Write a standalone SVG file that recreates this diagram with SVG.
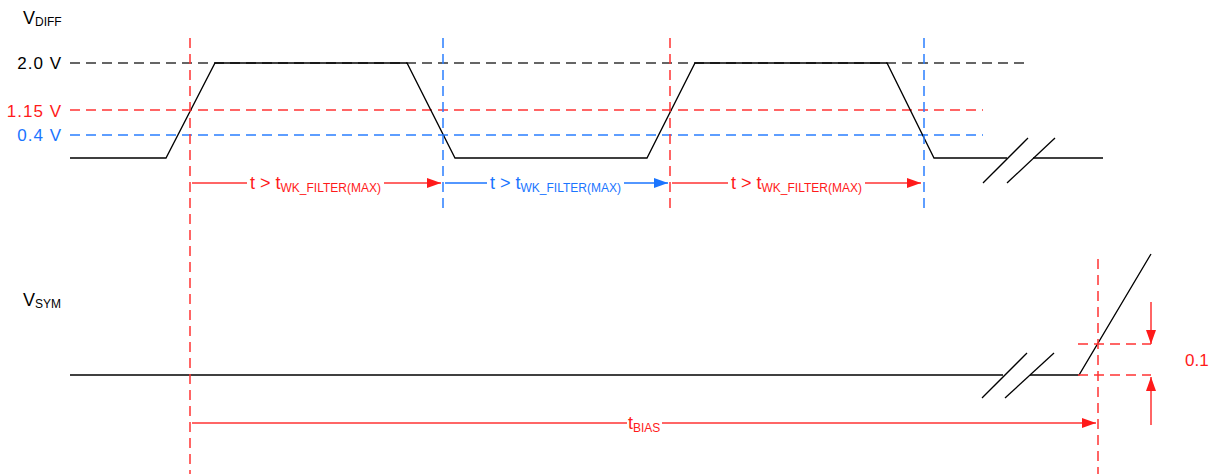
<svg xmlns="http://www.w3.org/2000/svg" width="1221" height="474" viewBox="0 0 1221 474">
<style>
text{font-family:"Liberation Sans",Arial,sans-serif;font-size:18px}
.sub{font-size:12px}
.lvl{font-size:17px;letter-spacing:1px}
.red{fill:#ff1a1a}
.blue{fill:#1a75ff}
.blk{fill:#000}
.sig{stroke:#000;stroke-width:1.3;fill:none}
.dk{stroke:#333;stroke-width:1.5;stroke-dasharray:10 6;fill:none}
.dr{stroke:#ff3333;stroke-width:1.5;stroke-dasharray:10 6;fill:none}
.db{stroke:#2a7fff;stroke-width:1.5;stroke-dasharray:10 6;fill:none}
.ar{stroke:#ff3333;stroke-width:1.5;fill:none}
.ab{stroke:#1a75ff;stroke-width:1.5;fill:none}
</style>
<defs>
<marker id="mr" markerWidth="14" markerHeight="10" refX="14" refY="5" orient="auto" markerUnits="userSpaceOnUse"><path d="M0,0 L14,5 L0,10 Z" fill="#ff1a1a"/></marker>
<marker id="mb" markerWidth="14" markerHeight="10" refX="14" refY="5" orient="auto" markerUnits="userSpaceOnUse"><path d="M0,0 L14,5 L0,10 Z" fill="#1a75ff"/></marker>
</defs>
<g id="labels">
<text x="23" y="24" class="blk">V<tspan class="sub" dy="2">DIFF</tspan></text>
<text x="62" y="69" class="blk lvl" text-anchor="end">2.0 V</text>
<text x="62" y="117" class="red lvl" text-anchor="end">1.15 V</text>
<text x="62" y="141" class="blue lvl" text-anchor="end">0.4 V</text>
<text x="23" y="306" class="blk">V<tspan class="sub" dy="2">SYM</tspan></text>
<text x="1185" y="366" class="red" style="font-size:17px">0.1</text>
</g>
<g id="levels">
<line class="dk" x1="70" y1="63" x2="1025" y2="63"/>
<line class="dr" x1="70" y1="110" x2="983" y2="110"/>
<line class="db" x1="70" y1="135" x2="983" y2="135"/>
</g>
<g id="vdiff-signal">
<polyline class="sig" points="70,158 166,158 215,63 407,63 455,158 647,158 695,63 887,63 934,158 1007,158"/>
<line class="sig" x1="1033" y1="158" x2="1103" y2="158"/>
<line class="sig" x1="983" y1="183" x2="1028" y2="138"/>
<line class="sig" x1="1007" y1="183" x2="1055" y2="138"/>
</g>
<g id="vsym-signal">
<line class="sig" x1="70" y1="375" x2="1003" y2="375"/>
<polyline class="sig" points="1030,375 1079,375 1151,254"/>
<line class="sig" x1="982" y1="398" x2="1027" y2="353"/>
<line class="sig" x1="1005" y1="398" x2="1054" y2="353"/>
</g>
<g id="markers">
<line class="dr" x1="190" y1="38" x2="190" y2="474"/>
<line class="db" x1="443" y1="38" x2="443" y2="210"/>
<line class="dr" x1="670" y1="38" x2="670" y2="210"/>
<line class="db" x1="924" y1="38" x2="924" y2="210"/>
<line class="dr" x1="1098" y1="259" x2="1098" y2="474"/>
<line class="dr" x1="1078" y1="344" x2="1151" y2="344"/>
<line class="dr" x1="1078" y1="375" x2="1151" y2="375"/>
</g>
<g id="connectors">
<line class="ar" x1="192" y1="183" x2="247" y2="183"/>
<line class="ar" x1="384" y1="183" x2="441" y2="183" marker-end="url(#mr)"/>
<text x="250" y="189" class="red">t &gt; t<tspan class="sub" dy="3">WK_FILTER(MAX)</tspan></text>
<line class="ab" x1="445" y1="183" x2="487" y2="183"/>
<line class="ab" x1="624" y1="183" x2="668" y2="183" marker-end="url(#mb)"/>
<text x="490" y="189" class="blue">t &gt; t<tspan class="sub" dy="3">WK_FILTER(MAX)</tspan></text>
<line class="ar" x1="672" y1="183" x2="728" y2="183"/>
<line class="ar" x1="865" y1="183" x2="921" y2="183" marker-end="url(#mr)"/>
<text x="731" y="189" class="red">t &gt; t<tspan class="sub" dy="3">WK_FILTER(MAX)</tspan></text>
<line class="ar" x1="192" y1="423" x2="627" y2="423"/>
<line class="ar" x1="662" y1="423" x2="1096" y2="423" marker-end="url(#mr)"/>
<text x="628" y="429" class="red">t<tspan class="sub" dy="3">BIAS</tspan></text>
<line class="ar" x1="1151" y1="302" x2="1151" y2="344" marker-end="url(#mr)"/>
<line class="ar" x1="1151" y1="425" x2="1151" y2="377" marker-end="url(#mr)"/>
</g>
</svg>
